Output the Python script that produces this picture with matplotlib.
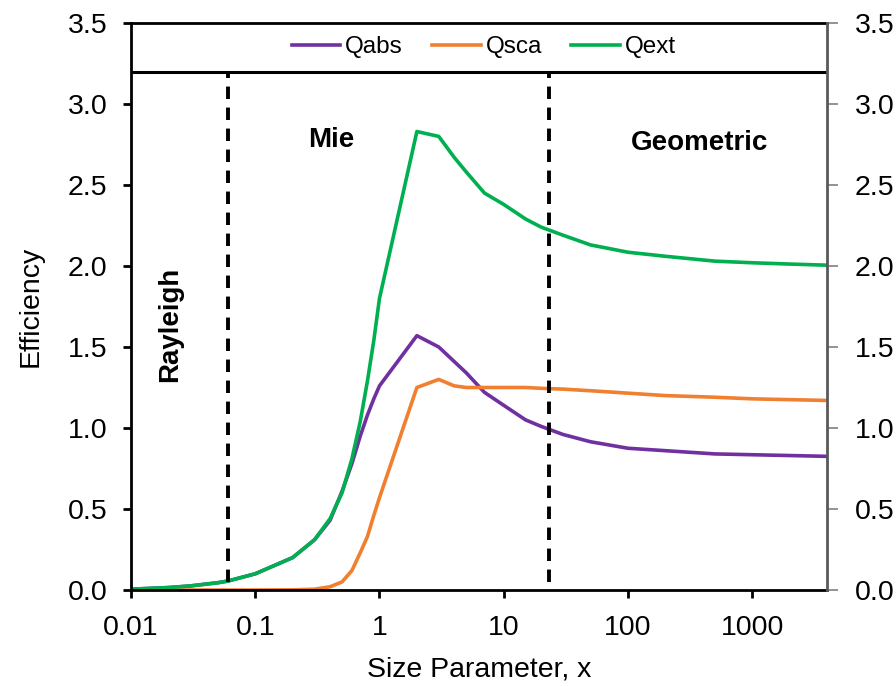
import matplotlib
matplotlib.use("Agg")
import matplotlib.pyplot as plt
from matplotlib.ticker import FixedLocator, FuncFormatter

plt.rcParams['font.family'] = ['Liberation Sans', 'DejaVu Sans']

size_param = [0.01, 0.02, 0.03, 0.05, 0.06, 0.1, 0.2, 0.3, 0.4, 0.5, 0.6, 0.7, 0.8, 0.9, 1,
              2, 3, 4, 5, 7, 10, 15, 20, 30, 50, 100, 200, 500, 1000, 2000, 4000]
q_ext = [0.005, 0.015, 0.025, 0.045, 0.055, 0.10, 0.20, 0.31, 0.44, 0.60, 0.81, 1.04, 1.29, 1.54, 1.80,
         2.83, 2.80, 2.67, 2.58, 2.45, 2.38, 2.29, 2.24, 2.19, 2.13, 2.085, 2.06, 2.03, 2.02, 2.012, 2.005]
q_abs = [0.005, 0.015, 0.025, 0.045, 0.055, 0.10, 0.20, 0.31, 0.43, 0.61, 0.78, 0.95, 1.08, 1.18, 1.26,
         1.57, 1.50, 1.41, 1.34, 1.22, 1.14, 1.05, 1.01, 0.96, 0.915, 0.875, 0.86, 0.84, 0.835, 0.83, 0.825]
q_sca = [0.0, 0.0, 0.0, 0.0, 0.0, 0.0, 0.001, 0.005, 0.02, 0.05, 0.12, 0.23, 0.33, 0.46, 0.57,
         1.25, 1.30, 1.26, 1.25, 1.25, 1.25, 1.25, 1.245, 1.24, 1.23, 1.215, 1.20, 1.19, 1.18, 1.175, 1.17]

series_names = ['Qabs', 'Qsca', 'Qext']
series_colors = ['#7030A0', '#F08030', '#00B050']

regime_bounds = [0.06, 23.3]
regime_labels = ['Rayleigh', 'Mie', 'Geometric']

x_ticks = [0.01, 0.1, 1, 10, 100, 1000]
x_tick_labels = ['0.01', '0.1', '1', '10', '100', '1000']
y_ticks = [0.0, 0.5, 1.0, 1.5, 2.0, 2.5, 3.0, 3.5]

fig = plt.figure(figsize=(8.96, 6.86), dpi=100)
ax = fig.add_axes([131/896, 96/686, 696/896, 567/686])

for name, vals, col in zip(series_names, [q_abs, q_sca, q_ext], series_colors):
    ax.plot(size_param, vals, color=col, lw=2.6, label=name, solid_joinstyle='round')

ax.set_xscale('log')
ax.set_xlim(0.01, 4000)
ax.set_ylim(0, 3.5)

# legend separator line
ax.axhline(3.2, color='black', lw=2.2)

for xb in regime_bounds:
    ax.plot([xb, xb], [0.05, 3.2], color='black', lw=2.8, linestyle=(0, (3.2, 2.2)))

ax.text(0.0206, 1.64, regime_labels[0], rotation=90, ha='center', va='center',
        fontsize=20, fontweight='bold')
ax.text(0.41, 2.78, regime_labels[1], ha='center', va='center', fontsize=20, fontweight='bold')
ax.text(380, 2.76, regime_labels[2], ha='center', va='center', fontsize=20, fontweight='bold')

ax.xaxis.set_major_locator(FixedLocator(x_ticks))
ax.xaxis.set_minor_locator(FixedLocator([]))
ax.set_xticklabels(x_tick_labels)
ax.set_yticks(y_ticks)
ax.yaxis.set_major_formatter(FuncFormatter(lambda v, p: f'{v:.1f}'))

for s in ['left', 'bottom', 'top']:
    ax.spines[s].set_linewidth(2.0)
    ax.spines[s].set_color('black')
ax.spines['right'].set_visible(False)

ax.tick_params(axis='both', which='major', direction='out', length=6, width=2.0,
               labelsize=20.5, color='black', pad=11)
ax.tick_params(axis='x', pad=12)

ax.set_xlabel('Size Parameter, x', fontsize=20.5, labelpad=11)
ax.set_ylabel('Efficiency', fontsize=20.5, labelpad=17)

ax2 = ax.twinx()
ax2.set_ylim(0, 3.5)
ax2.set_yticks(y_ticks)
ax2.yaxis.set_major_formatter(FuncFormatter(lambda v, p: f'{v:.1f}'))
for s in ['left', 'bottom', 'top']:
    ax2.spines[s].set_visible(False)
ax2.spines['right'].set_color('#595959')
ax2.spines['right'].set_linewidth(2.0)
ax2.tick_params(axis='y', direction='out', length=8, width=1.2, color='#808080',
                labelsize=20.5, pad=12)

leg = ax.legend(loc='center', bbox_to_anchor=(0.5065, 0.957), ncol=3, frameon=False,
                fontsize=17.5, handlelength=2.0, handletextpad=0.2, columnspacing=1.2)

fig.savefig('out.png', dpi=100)
